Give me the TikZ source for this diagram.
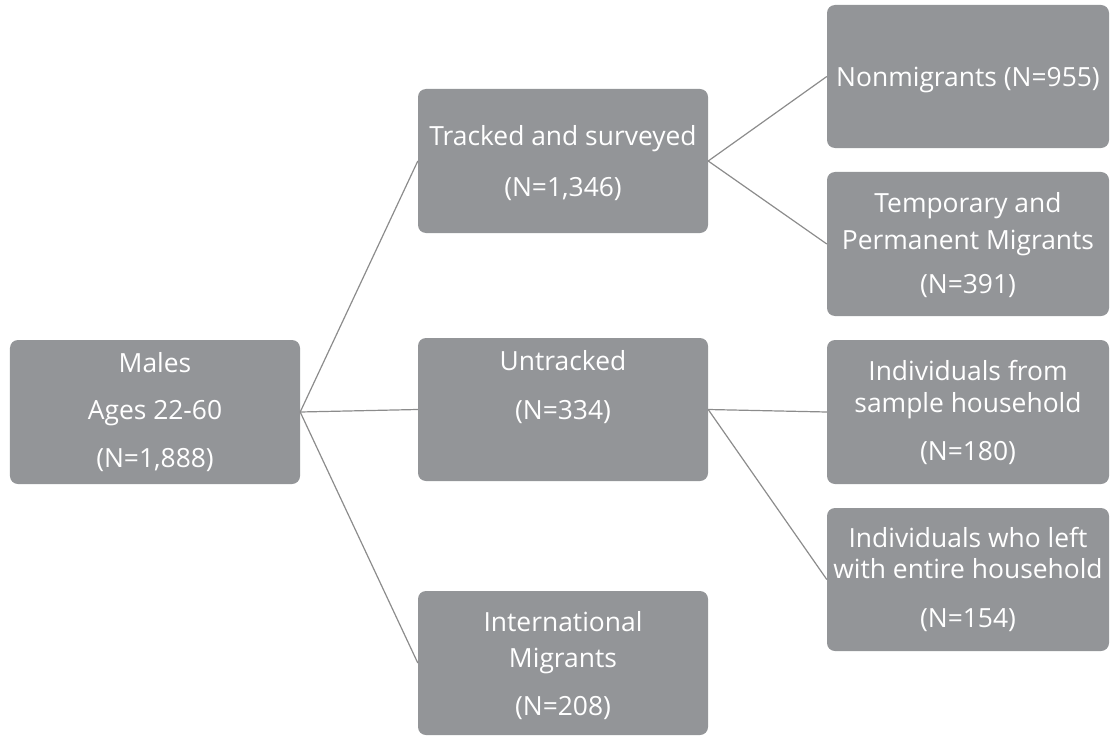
\documentclass[tikz,border=0pt]{standalone}
\usepackage{fontspec}
\setmainfont{Open Sans}
\definecolor{boxgray}{RGB}{147,149,152}
\definecolor{linegray}{RGB}{140,140,140}
\begin{document}
\begin{tikzpicture}[x=1bp,y=-1bp,
  box/.style={fill=boxgray,draw=none,rounded corners=8bp,inner sep=0pt,minimum width=#1},
  box/.default=290bp,
  txt/.style={text=white,font=\fontsize{26.5}{30}\selectfont,anchor=base,inner sep=0pt},
  conn/.style={draw=linegray,line width=1.2bp}]
\useasboundingbox (0,0) rectangle (1110,736);
% boxes
\node[box,minimum height=144bp] (m) at (155,412) {};
\node[box,minimum height=144bp] (t) at (563,161) {};
\node[box,minimum height=143bp] (u) at (563,409.5) {};
\node[box,minimum height=144bp] (i) at (563,663) {};
\node[box=282bp,minimum height=143bp] (n) at (968,76.5) {};
\node[box=282bp,minimum height=144bp] (p) at (968,244) {};
\node[box=282bp,minimum height=144bp] (s) at (968,412) {};
\node[box=282bp,minimum height=143bp] (w) at (968,579.5) {};
% connectors
\draw[conn] (m.east) -- (t.west);
\draw[conn] (m.east) -- (u.west);
\draw[conn] (m.east) -- (i.west);
\draw[conn] (t.east) -- (n.west);
\draw[conn] (t.east) -- (p.west);
\draw[conn] (u.east) -- (s.west);
\draw[conn] (u.east) -- (w.west);
% texts
\node[txt] (m1) at (155,372) {Males};
\node[txt] (m2) at (155,419) {Ages 22-60};
\node[txt] (m3) at (155,467) {(N=1,888)};
\node[txt] (t1) at (563,145) {Tracked and surveyed};
\node[txt] (t2) at (563,196) {(N=1,346)};
\node[txt] (n1) at (968,87) {Nonmigrants (N=955)};
\node[txt] (p1) at (968,212) {Temporary and};
\node[txt] (p2) at (968,249) {Permanent Migrants};
\node[txt] (p3) at (968,293) {(N=391)};
\node[txt] (u1) at (563,370) {Untracked};
\node[txt] (u2) at (563,419) {(N=334)};
\node[txt] (s1) at (968,380) {Individuals from};
\node[txt] (s2) at (968,412) {sample household};
\node[txt] (s3) at (968,460) {(N=180)};
\node[txt] (w1) at (968,547) {Individuals who left};
\node[txt] (w2) at (968,578) {with entire household};
\node[txt] (w3) at (968,627) {(N=154)};
\node[txt] (i1) at (563,631) {International};
\node[txt] (i2) at (563,667) {Migrants};
\node[txt] (i3) at (563,715) {(N=208)};
\end{tikzpicture}
\end{document}
